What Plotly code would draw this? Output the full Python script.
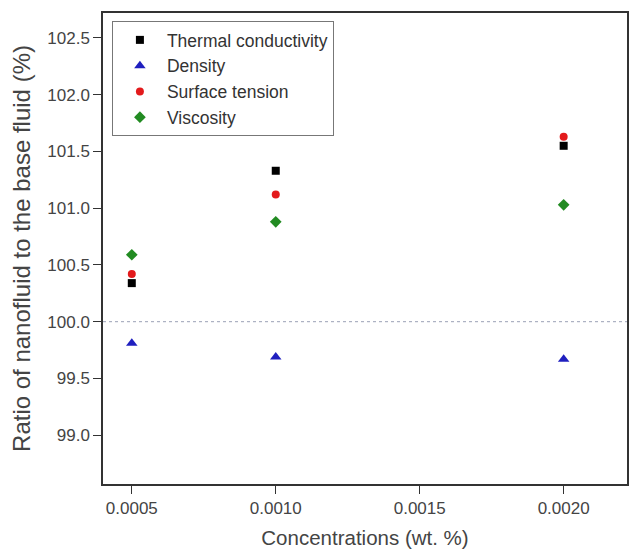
import plotly.graph_objects as go

concentrations = [0.0005, 0.0010, 0.0020]
thermal_conductivity = [100.34, 101.33, 101.55]
density = [99.81, 99.69, 99.67]
surface_tension = [100.42, 101.12, 101.63]
viscosity = [100.59, 100.88, 101.03]

y_ticks = [99.0, 99.5, 100.0, 100.5, 101.0, 101.5, 102.0, 102.5]
x_ticks = [0.0005, 0.0010, 0.0015, 0.0020]
x_tick_labels = ["0.0005", "0.0010", "0.0015", "0.0020"]
reference_level = 100.0

series = [
    ("Thermal conductivity", thermal_conductivity, "square", "#000000", 8),
    ("Density", density, "triangle-up", "#1f1fbf", 10),
    ("Surface tension", surface_tension, "circle", "#e31a1c", 8),
    ("Viscosity", viscosity, "diamond", "#228b22", 9),
]

fig = go.Figure()
for name, vals, sym, col, sz in series:
    fig.add_trace(go.Scatter(
        x=concentrations, y=vals, mode="markers", name=name,
        marker=dict(symbol=sym, color=col, size=sz, line=dict(width=0)),
    ))

fig.add_hline(y=reference_level, line=dict(color="#9aa0b5", width=1, dash="dot"))

font_family = "Liberation Sans, Arial, sans-serif"
fig.update_layout(
    width=630, height=549,
    margin=dict(l=103, r=3, t=13, b=65, autoexpand=False),
    plot_bgcolor="white", paper_bgcolor="white",
    font=dict(family=font_family, color="#444444"),
    showlegend=True,
    legend=dict(
        x=0.017, y=0.983, xanchor="left", yanchor="top",
        bgcolor="white", bordercolor="#777777", borderwidth=1,
        font=dict(size=17.5, color="#333333"),
        tracegroupgap=0, itemsizing="trace", itemwidth=44,
    ),
    xaxis=dict(
        range=[0.0004, 0.00222], automargin=False,
        tickvals=x_ticks, ticktext=x_tick_labels,
        ticks="outside", ticklen=8, tickwidth=1, tickcolor="#333333",
        showline=True, linecolor="#333333", linewidth=1.5, mirror=True,
        showgrid=False, zeroline=False,
        tickfont=dict(size=17, color="#444444"),
        title=dict(text="Concentrations (wt. %)", font=dict(size=20.5, color="#444444"), standoff=13),
    ),
    yaxis=dict(
        range=[98.57, 102.72], automargin=False,
        tickvals=y_ticks, ticktext=[f"{v:.1f}" for v in y_ticks],
        ticks="outside", ticklen=8, tickwidth=1, tickcolor="#333333",
        showline=True, linecolor="#333333", linewidth=1.5, mirror=True,
        showgrid=False, zeroline=False,
        tickfont=dict(size=17, color="#444444"),
        title=dict(text="Ratio of nanofluid to the base fluid (%)", font=dict(size=24, color="#444444"), standoff=10),
    ),
)

fig.write_html("out.html", config={"displayModeBar": False},
               post_script="document.body.style.margin='0';")
